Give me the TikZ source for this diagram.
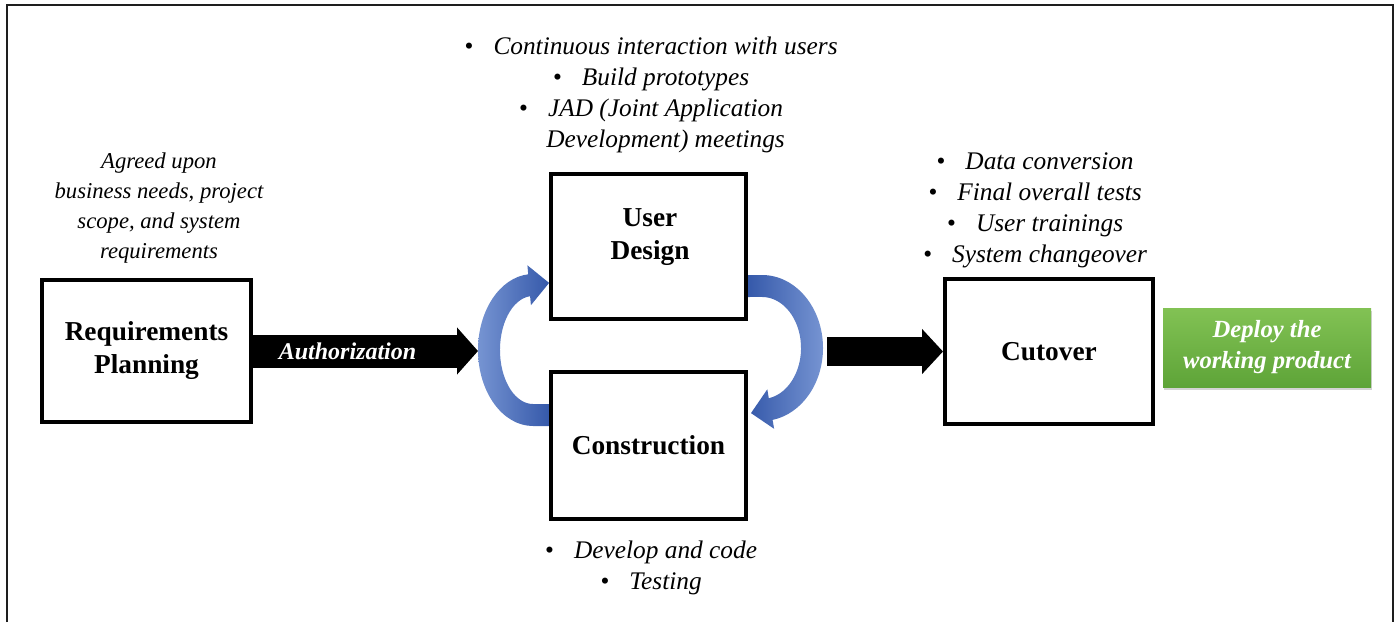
\documentclass[tikz,border=0pt]{standalone}
\usepackage{fontspec}
\setmainfont{Liberation Serif}
\usetikzlibrary{arrows.meta,shadows,backgrounds,calc}
\definecolor{blueL}{RGB}{118,148,210}
\definecolor{blueD}{RGB}{50,86,168}
\definecolor{greenT}{RGB}{130,194,84}
\definecolor{greenB}{RGB}{94,164,56}
\definecolor{frameC}{RGB}{30,30,30}
\newcommand{\bul}{\textbullet\hspace{0.8em}}
\begin{document}
\begin{tikzpicture}[x=0.75pt,y=-0.75pt,
  box/.style={draw=black, line width=3pt, fill=white, inner sep=0pt},
  boldtxt/.style={font=\bfseries\fontsize{20.5}{24.75}\selectfont, align=center},
  ittxt/.style={font=\itshape\fontsize{19}{23.25}\selectfont, align=center, inner sep=0pt},
  leftnote/.style={font=\itshape\fontsize{17}{22.5}\selectfont, align=center, inner sep=0pt},
  arrowA/.style={line width=24.75pt, black, -{Triangle[length=15.75pt, width=34.5pt]}},
  arrowB/.style={line width=21.75pt, black, -{Triangle[length=15.75pt, width=33pt]}},
  authtxt/.style={text=white, font=\bfseries\itshape\fontsize{18}{20}\selectfont},
  greenbox/.style={top color=greenT, bottom color=greenB, minimum width=156pt, minimum height=59.25pt,
     text=white, font=\bfseries\itshape\fontsize{18.5}{23.25}\selectfont, align=center,
     drop shadow={opacity=0.35, shadow xshift=1pt, shadow yshift=-2pt}},
  bluearc/.style={draw=none}
]
\useasboundingbox (0,0) rectangle (1398,622);
\draw[line width=1.5pt, frameC] (7,622) -- (7,5) -- (1393,5) -- (1393,622);

% boxes
\node[box, boldtxt, minimum width=156.75pt, minimum height=106.5pt] (req) at (146.5,351) {Requirements\\Planning};
\node[box, minimum width=146.25pt, minimum height=108.75pt] (ud) at (648.5,246.5) {};
\node[boldtxt] (udt) at (650,237) {User\\Design};
\node[box, boldtxt, minimum width=146.25pt, minimum height=110.25pt] (con) at (648.5,445.5) {Construction};
\node[box, boldtxt, minimum width=156pt, minimum height=108.75pt] (cut) at (1049,351.5) {Cutover};
\node[greenbox] (dep) at (1267,347.5) {Deploy the\\working product};

% notes
\node[leftnote] (reqnote) at (159,208) {Agreed upon\\business needs, project\\scope, and system\\requirements};
\node[ittxt] (udnote) at (651,95) {\bul Continuous interaction with users\\\bul Build prototypes\\\bul JAD (Joint Application\\\phantom{\bul}Development) meetings};
\node[ittxt] (cutnote) at (1035,210) {\bul Data conversion\\\bul Final overall tests\\\bul User trainings\\\bul System changeover};
\node[ittxt] (connote) at (651,568) {\bul Develop and code\\\bul Testing};

\coordinate (arcL) at (478,351);
\coordinate (a2s) at (827,351.5);

\begin{pgfonlayer}{background}
% left curved arrow (Construction -> User Design)
\shade[bluearc, left color=blueL, right color=blueD]
  (553,404) -- (553,426) -- (533,426)
  arc[start angle=90, end angle=265, x radius=55, y radius=76]
  -- (527.4,265.3) -- (549.1,282.9) -- (530.9,305.2) -- (530.1,296.2)
  arc[start angle=265, end angle=90, x radius=33, y radius=54] -- cycle;
% right curved arrow (User Design -> Construction)
\shade[bluearc, left color=blueD, right color=blueL]
  (744,297) -- (744,275) -- (762,275)
  arc[start angle=270, end angle=440, x radius=61, y radius=73]
  -- (774.1,428.8) -- (751,413.1) -- (767.3,389.3) -- (768.8,398.2)
  arc[start angle=440, end angle=270, x radius=39, y radius=51] -- cycle;
% black arrows
\draw[arrowA] (req.east) -- (arcL) node[pos=0.42, authtxt] (auth) {Authorization};
\draw[arrowB] (a2s) -- (cut.west);
\end{pgfonlayer}
\end{tikzpicture}
\end{document}
